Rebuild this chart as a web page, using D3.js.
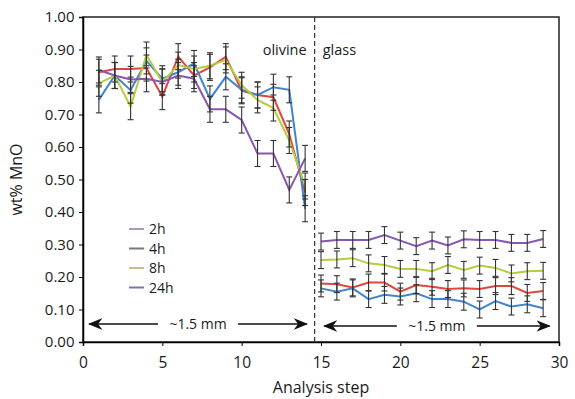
<!DOCTYPE html>
<html>
<head>
<meta charset="utf-8">
<script src="https://cdn.jsdelivr.net/npm/d3@7"></script>
<style>
  body { margin: 0; background: #fff; }
  text { font-family: "Open Sans", "DejaVu Sans", sans-serif; fill: #1a1a1a; }
</style>
</head>
<body>
<div id="chart"></div>
<script>
// olivine steps 1..14, glass steps 15..29
const olivineSteps = [1, 2, 3, 4, 5, 6, 7, 8, 9, 10, 11, 12, 13, 14];
const glassSteps = [15, 16, 17, 18, 19, 20, 21, 22, 23, 24, 25, 26, 27, 28, 29];

const seriesNames = ['2h', '4h', '8h', '24h'];
const seriesColors = ['#e2453b', '#4284cf', '#b7cb3c', '#8857b3'];
const legendColors = ['#a99ab0', '#7d7775', '#cbb98c', '#8a6cb5'];

const olivine2h = [0.83, 0.84, 0.84, 0.843, 0.755, 0.878, 0.82, 0.845, 0.878, 0.773, 0.76, 0.753, 0.64, 0.46];
const olivine4h = [0.745, 0.82, 0.775, 0.865, 0.81, 0.83, 0.857, 0.748, 0.816, 0.776, 0.76, 0.784, 0.776, 0.41];
const olivine8h = [0.796, 0.82, 0.724, 0.883, 0.80, 0.852, 0.84, 0.85, 0.868, 0.79, 0.745, 0.72, 0.62, 0.48];
const olivine24h = [0.837, 0.82, 0.808, 0.81, 0.80, 0.82, 0.81, 0.716, 0.716, 0.683, 0.58, 0.58, 0.468, 0.565];

const glass2h = [0.18, 0.178, 0.168, 0.183, 0.183, 0.155, 0.175, 0.17, 0.163, 0.165, 0.163, 0.172, 0.172, 0.151, 0.157];
const glass4h = [0.165, 0.155, 0.165, 0.132, 0.145, 0.14, 0.15, 0.132, 0.132, 0.124, 0.10, 0.126, 0.109, 0.116, 0.104];
const glass8h = [0.252, 0.254, 0.258, 0.242, 0.237, 0.225, 0.225, 0.218, 0.237, 0.222, 0.235, 0.228, 0.211, 0.218, 0.219];
const glass24h = [0.309, 0.314, 0.314, 0.314, 0.329, 0.312, 0.295, 0.312, 0.297, 0.316, 0.314, 0.314, 0.305, 0.305, 0.317];

const olivineErr = 0.04;
const glassErr = 0.026;

const xTicks = [0, 5, 10, 15, 20, 25, 30];
const yTicks = [0, 0.1, 0.2, 0.3, 0.4, 0.5, 0.6, 0.7, 0.8, 0.9, 1.0];
const boundaryStep = 14.6;

const width = 575, height = 399;
const margin = { left: 83, right: 16, top: 17, bottom: 57 };

const svg = d3.select('#chart').append('svg')
    .attr('width', width)
    .attr('height', height);

const x = d3.scaleLinear().domain([0, 30]).range([margin.left, width - margin.right]);
const y = d3.scaleLinear().domain([0, 1]).range([height - margin.bottom, margin.top]);

// frame
svg.append('rect')
    .attr('x', x(0)).attr('y', y(1))
    .attr('width', x(30) - x(0)).attr('height', y(0) - y(1))
    .attr('fill', 'none').attr('stroke', '#222').attr('stroke-width', 1.5);

const xAxis = svg.append('g')
    .attr('transform', `translate(0,${y(0)})`)
    .call(d3.axisBottom(x).tickValues(xTicks).tickSize(4).tickFormat(d3.format('d')));
xAxis.select('.domain').attr('stroke-width', 1.5);
xAxis.selectAll('text').attr('font-size', 15.5).attr('dy', '1.2em');

const yAxis = svg.append('g')
    .attr('transform', `translate(${x(0)},0)`)
    .call(d3.axisLeft(y).tickValues(yTicks).tickSize(4).tickFormat(d3.format('.2f')));
yAxis.select('.domain').attr('stroke-width', 1.5);
yAxis.selectAll('text').attr('font-size', 15).attr('dx', '-0.1em');

svg.append('text')
    .attr('x', (x(0) + x(30)) / 2).attr('y', 393)
    .attr('text-anchor', 'middle').attr('font-size', 16)
    .text('Analysis step');

svg.append('text')
    .attr('transform', `translate(22,${(y(0) + y(1)) / 2}) rotate(-90)`)
    .attr('text-anchor', 'middle').attr('font-size', 16)
    .text('wt% MnO');

// boundary
svg.append('line')
    .attr('x1', x(boundaryStep)).attr('x2', x(boundaryStep))
    .attr('y1', y(1)).attr('y2', y(0))
    .attr('stroke', '#333').attr('stroke-width', 1.2).attr('stroke-dasharray', '5,3');

svg.append('text').attr('x', x(boundaryStep) - 8).attr('y', 55)
    .attr('text-anchor', 'end').attr('font-size', 14.5).text('olivine');
svg.append('text').attr('x', x(boundaryStep) + 8).attr('y', 55)
    .attr('font-size', 14.5).text('glass');

const olivineData = [olivine2h, olivine4h, olivine8h, olivine24h];
const glassData = [glass2h, glass4h, glass8h, glass24h];

const line = d3.line().x(d => x(d.step)).y(d => y(d.v));

function drawSegment(steps, data, err) {
    data.forEach((vals, i) => {
        const pts = steps.map((s, j) => ({ step: s, v: vals[j] }));
        svg.append('path')
            .datum(pts)
            .attr('d', line)
            .attr('fill', 'none')
            .attr('stroke', seriesColors[i])
            .attr('stroke-width', 2);
    });
    data.forEach(vals => {
        const g = svg.append('g').attr('stroke', '#333').attr('stroke-width', 1.1);
        steps.forEach((s, j) => {
            const cx = x(s);
            g.append('line').attr('x1', cx).attr('x2', cx)
                .attr('y1', y(vals[j] - err)).attr('y2', y(vals[j] + err));
            g.append('line').attr('x1', cx - 3).attr('x2', cx + 3)
                .attr('y1', y(vals[j] - err)).attr('y2', y(vals[j] - err));
            g.append('line').attr('x1', cx - 3).attr('x2', cx + 3)
                .attr('y1', y(vals[j] + err)).attr('y2', y(vals[j] + err));
        });
    });
}

drawSegment(olivineSteps, olivineData, olivineErr);
drawSegment(glassSteps, glassData, glassErr);

// scale arrows
const defs = svg.append('defs');
defs.append('marker').attr('id', 'ah').attr('viewBox', '0 0 10 10')
    .attr('refX', 9).attr('refY', 5).attr('markerWidth', 9).attr('markerHeight', 9)
    .attr('orient', 'auto-start-reverse')
    .append('path').attr('d', 'M0,1 L10,5 L0,9 L3,5 Z').attr('fill', '#111');

function scaleArrow(s0, s1, yPos, label) {
    const mid = (x(s0) + x(s1)) / 2;
    const half = 40;
    svg.append('line').attr('x1', x(s0)).attr('x2', mid - half)
        .attr('y1', yPos).attr('y2', yPos)
        .attr('stroke', '#111').attr('stroke-width', 1.6).attr('marker-start', 'url(#ah)');
    svg.append('line').attr('x1', mid + half).attr('x2', x(s1))
        .attr('y1', yPos).attr('y2', yPos)
        .attr('stroke', '#111').attr('stroke-width', 1.6).attr('marker-end', 'url(#ah)');
    svg.append('text').attr('x', mid).attr('y', yPos + 5)
        .attr('text-anchor', 'middle').attr('font-size', 14).text(label);
}
scaleArrow(0.4, 14.1, 324, '~1.5 mm');
scaleArrow(15.2, 29.4, 326, '~1.5 mm');

// legend
const legend = svg.append('g').attr('transform', 'translate(129,229)');
seriesNames.forEach((name, i) => {
    const row = legend.append('g').attr('transform', `translate(0,${i * 19.5})`);
    row.append('line').attr('x1', 0).attr('x2', 15).attr('y1', 0).attr('y2', 0)
        .attr('stroke', legendColors[i]).attr('stroke-width', 2);
    row.append('text').attr('x', 20).attr('y', 5).attr('font-size', 14).text(name);
});
</script>
</body>
</html>
